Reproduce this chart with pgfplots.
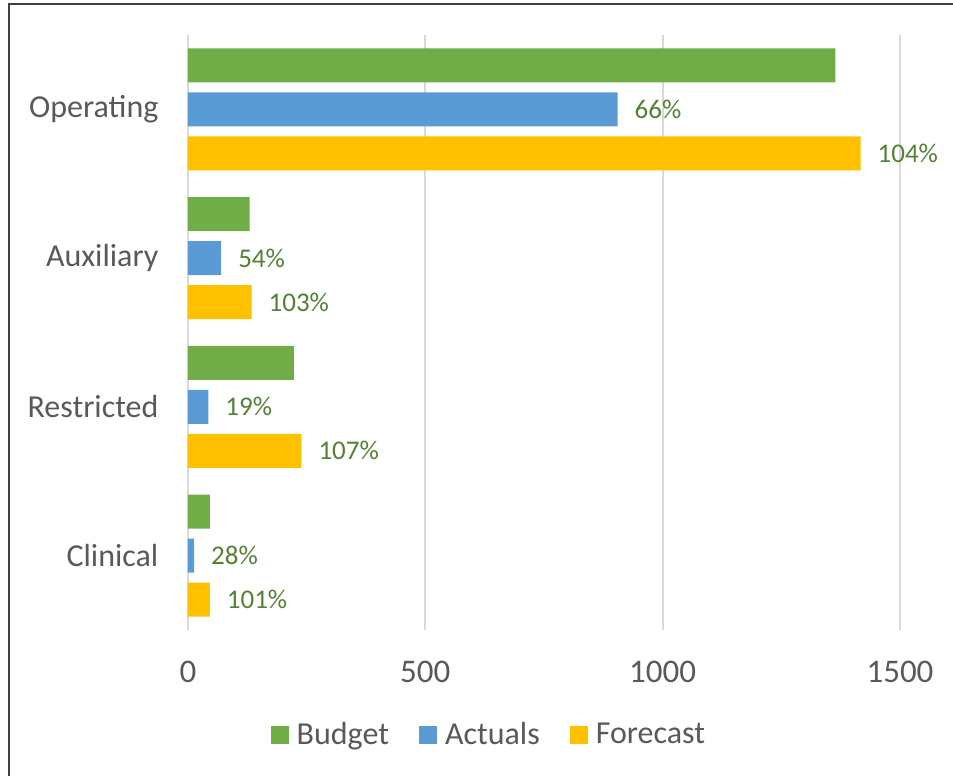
\documentclass[border=0pt]{standalone}
\usepackage{pgfplots}
\pgfplotsset{compat=1.18}
\usepackage{fontspec}
\setmainfont{Carlito}

\definecolor{budget}{HTML}{70AD47}
\definecolor{actuals}{HTML}{5B9BD5}
\definecolor{forecast}{HTML}{FFC000}
\definecolor{lblgreen}{HTML}{548235}
\definecolor{txtgray}{HTML}{595959}
\definecolor{gridgray}{HTML}{D9D9D9}

% y: 0 = Clinical ... 3 = Operating
\pgfplotstableread{
y  budget actuals apct forecast fpct
0  46     13      28   46       101
1  223    43      19   239      107
2  130    70      54   134      103
3  1364   905     66   1417     104
}\spend

\begin{document}
\begin{tikzpicture}
\useasboundingbox (-94pt,-73pt) rectangle (382.5pt,315pt);
\draw[color=black!75, line width=0.6pt] (-89.5pt,-80pt) -- (-89.5pt,313pt) -- (390pt,313pt);
\begin{axis}[
  scale only axis,
  width=356pt, height=297.5pt,
  xbar, bar width=17pt,
  xmin=0, xmax=1500,
  ymin=-0.5, ymax=3.5,
  xtick={0,500,1000,1500},
  ytick={0,1,2,3},
  yticklabels={Clinical,Restricted,Auxiliary,Operating},
  xmajorgrids=true,
  grid style={gridgray, line width=1pt},
  axis line style={draw=none},
  tick style={draw=none},
  /pgf/number format/1000 sep={},
  /pgf/number format/assume math mode=true,
  ticklabel style={text=txtgray},
  xticklabel style={font=\fontsize{16.5pt}{19pt}\selectfont, yshift=-12pt},
  yticklabel style={font=\fontsize{16pt}{19pt}\selectfont, xshift=-7pt},
  legend style={at={(0.424,-0.1765)}, anchor=center, draw=none,
    font=\fontsize{16pt}{19pt}\selectfont, text=txtgray,
    /tikz/every even column/.append style={column sep=13pt}},
  legend columns=-1,
  legend image code/.code={\fill (0pt,-4.5pt) rectangle (9pt,4.5pt); \path (11pt,0pt);},
  nodes near coords style={font=\fontsize{13.5pt}{16pt}\selectfont, text=lblgreen, anchor=west, xshift=5pt},
]
\addplot[fill=budget, draw=none, bar shift=22pt] table[x=budget, y=y] {\spend};
\addplot[fill=actuals, draw=none, bar shift=0pt,
  nodes near coords={\pgfmathprintnumber[fixed,precision=0]{\pgfplotspointmeta}\%},
  point meta=explicit] table[x=actuals, y=y, meta=apct] {\spend};
\addplot[fill=forecast, draw=none, bar shift=-22pt,
  nodes near coords={\pgfmathprintnumber[fixed,precision=0]{\pgfplotspointmeta}\%},
  point meta=explicit] table[x=forecast, y=y, meta=fpct] {\spend};
\legend{Budget,Actuals,Forecast}
\end{axis}
\end{tikzpicture}
\end{document}
